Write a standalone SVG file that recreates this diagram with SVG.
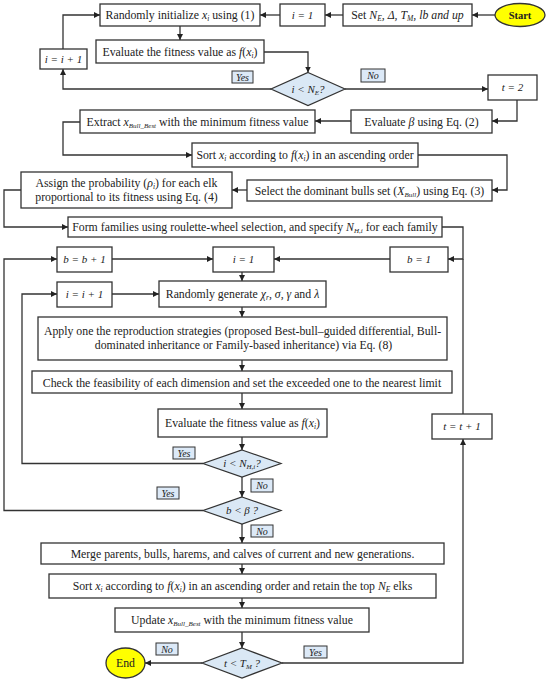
<svg xmlns="http://www.w3.org/2000/svg" width="550" height="685" viewBox="0 0 550 685">
<defs>
<marker id="ah" viewBox="0 0 10 10" refX="10" refY="5" markerWidth="6" markerHeight="6" orient="auto" markerUnits="userSpaceOnUse">
<path d="M0,0 L10,5 L0,10 z" fill="#222"/>
</marker>
<style>
.box{fill:#fff;stroke:#333;stroke-width:1.3}
.dia{fill:#dae8f5;stroke:#333;stroke-width:1.2}
.lbl{fill:#dce9f7;stroke:#333;stroke-width:1}
.term{fill:#ffff00;stroke:#333;stroke-width:1.3}
.ln{fill:none;stroke:#333;stroke-width:1.3}
.ar{marker-end:url(#ah)}
text{font-family:"Liberation Serif","DejaVu Serif",serif;font-size:11.8px;fill:#222;text-anchor:middle}
.it{font-style:italic}
.sm{font-style:italic;font-size:11px}
.lt{font-style:italic;font-size:10px}
.b{font-weight:bold;font-size:10.5px}
</style>
</defs>
<rect width="550" height="685" fill="#fff"/>

<g id="connectors">
<path class="ln ar" d="M495,15 H472"/>
<path class="ln ar" d="M343,15 H325"/>
<path class="ln ar" d="M280,15 H260"/>
<path class="ln ar" d="M180,26 V40"/>
<path class="ln ar" d="M264,52 H308 V72.5"/>
<path class="ln ar" d="M271,89 H63 V69"/>
<path class="ln ar" d="M63,49 V15 H100"/>
<path class="ln ar" d="M345,89 H488"/>
<path class="ln ar" d="M517,100 V121 H492"/>
<path class="ln ar" d="M351,121 H315"/>
<path class="ln ar" d="M80,122 H63 V155 H192"/>
<path class="ln ar" d="M418,155 H507 V190 H492"/>
<path class="ln ar" d="M247,190 H232"/>
<path class="ln ar" d="M21,190 H4 V227 H68"/>
<path class="ln ar" d="M442,227 H463 V259 H448"/>
<path class="ln ar" d="M390,259 H274"/>
<path class="ln ar" d="M112,259 H213"/>
<path class="ln ar" d="M242,272 V281"/>
<path class="ln ar" d="M112,294 H159"/>
<path class="ln ar" d="M242,307 V317"/>
<path class="ln ar" d="M242,360 V371"/>
<path class="ln ar" d="M242,393 V409"/>
<path class="ln ar" d="M242,437 V450"/>
<path class="ln ar" d="M203,463.5 H22 V294 H57"/>
<path class="ln ar" d="M242,477 V497"/>
<path class="ln ar" d="M203,510.5 H4 V259 H57"/>
<path class="ln ar" d="M242,524 V543"/>
<path class="ln ar" d="M242,564 V574"/>
<path class="ln ar" d="M242,598 V608"/>
<path class="ln ar" d="M242,632 V648"/>
<path class="ln ar" d="M202,663 H145"/>
<path class="ln ar" d="M282,663 H463 V439"/>
<path class="ln" d="M463,414 V259"/>
</g>

<g id="start"><ellipse class="term" cx="520" cy="15" rx="25" ry="11.5"/><text class="b" x="520" y="19">Start</text></g>
<g id="set"><rect class="box" x="343" y="4" width="129" height="22"/><text x="407.5" y="19">Set <tspan class="it">N<tspan font-size="7.5" dy="2">E</tspan><tspan dy="-2">, Δ, T</tspan><tspan font-size="7.5" dy="2">M</tspan><tspan dy="-2">, lb and up</tspan></tspan></text></g>
<g id="i1a"><rect class="box" x="280" y="4" width="45" height="22"/><text class="sm" x="302.5" y="19">i = 1</text></g>
<g id="init"><rect class="box" x="100" y="4" width="160" height="22"/><text x="180" y="19">Randomly initialize <tspan class="it">x<tspan font-size="7.5" dy="2">i</tspan></tspan><tspan dy="-2"> using (1)</tspan></text></g>
<g id="eval1"><rect class="box" x="96" y="40" width="168" height="23"/><text x="180" y="55.5">Evaluate the fitness value as <tspan class="it">f</tspan>(<tspan class="it">x<tspan font-size="7.5" dy="2">i</tspan></tspan><tspan dy="-2">)</tspan></text></g>
<g id="inc1"><rect class="box" x="40" y="49" width="47" height="20"/><text class="sm" x="63.5" y="63">i = i + 1</text></g>
<g id="d1"><polygon class="dia" points="308,72.5 345,89 308,105.5 271,89"/><text class="sm" x="308" y="93">i &lt; N<tspan font-size="7" dy="2">E</tspan><tspan dy="-2">?</tspan></text></g>
<g id="t2"><rect class="box" x="488" y="75" width="49" height="25"/><text class="sm" x="512.5" y="91">t = 2</text></g>
<g id="evb"><rect class="box" x="351" y="110" width="141" height="23"/><text x="421.5" y="125.5">Evaluate <tspan class="it">β</tspan> using Eq. (2)</text></g>
<g id="extract"><rect class="box" x="80" y="110" width="235" height="23"/><text x="197.5" y="125.5">Extract <tspan class="it">x<tspan font-size="7" dy="2">Bull_Best</tspan></tspan><tspan dy="-2"> with the minimum fitness value</tspan></text></g>
<g id="sort1"><rect class="box" x="192" y="143" width="226" height="24"/><text x="305" y="159">Sort <tspan class="it">x<tspan font-size="7.5" dy="2">i</tspan></tspan><tspan dy="-2"> according to </tspan><tspan class="it">f</tspan>(<tspan class="it">x<tspan font-size="7.5" dy="2">i</tspan></tspan><tspan dy="-2">) in an ascending order</tspan></text></g>
<g id="select"><rect class="box" x="247" y="180" width="245" height="21"/><text x="369.5" y="194.5">Select the dominant bulls set (<tspan class="it">X<tspan font-size="7" dy="2">Bull</tspan></tspan><tspan dy="-2">) using Eq. (3)</tspan></text></g>
<g id="assign"><rect class="box" x="21" y="172" width="211" height="36"/><text x="126.5" y="187">Assign the probability (<tspan class="it">ρ<tspan font-size="7.5" dy="2">i</tspan></tspan><tspan dy="-2">) for each elk</tspan></text><text x="126.5" y="200.5">proportional to its fitness using Eq. (4)</text></g>
<g id="form"><rect class="box" x="68" y="217" width="374" height="20"/><text x="255" y="231">Form families using roulette-wheel selection, and specify <tspan class="it">N<tspan font-size="7" dy="2">H,i</tspan></tspan><tspan dy="-2"> for each family</tspan></text></g>
<g id="binc"><rect class="box" x="57" y="247" width="55" height="25"/><text class="sm" x="84.5" y="263">b = b + 1</text></g>
<g id="i1b"><rect class="box" x="213" y="247" width="61" height="25"/><text class="sm" x="243.5" y="263">i = 1</text></g>
<g id="b1"><rect class="box" x="390" y="247" width="58" height="25"/><text class="sm" x="419" y="263">b = 1</text></g>
<g id="inc2"><rect class="box" x="57" y="282" width="55" height="25"/><text class="sm" x="84.5" y="298">i = i + 1</text></g>
<g id="randgen"><rect class="box" x="159" y="281" width="167" height="26"/><text x="242.5" y="298">Randomly generate <tspan class="it">χ<tspan font-size="7.5" dy="2">r</tspan></tspan><tspan dy="-2">, </tspan><tspan class="it">σ</tspan>, <tspan class="it">γ</tspan> and <tspan class="it">λ</tspan></text></g>
<g id="apply"><rect class="box" x="38" y="317" width="409" height="43"/><text x="242.5" y="335">Apply one the reproduction strategies (proposed Best-bull–guided differential, Bull-</text><text x="243.5" y="348.5">dominated inheritance or Family-based inheritance) via Eq. (8)</text></g>
<g id="check"><rect class="box" x="32" y="371" width="420" height="22"/><text x="242" y="386.5">Check the feasibility of each dimension and set the exceeded one to the nearest limit</text></g>
<g id="eval2"><rect class="box" x="158" y="409" width="169" height="28"/><text x="242.5" y="427">Evaluate the fitness value as <tspan class="it">f</tspan>(<tspan class="it">x<tspan font-size="7.5" dy="2">i</tspan></tspan><tspan dy="-2">)</tspan></text></g>
<g id="d2"><polygon class="dia" points="242,450 281,463.5 242,477 203,463.5"/><text class="sm" x="242" y="467">i &lt; N<tspan font-size="7" dy="2">H,i</tspan><tspan dy="-2">?</tspan></text></g>
<g id="d3"><polygon class="dia" points="242,497 281,510.5 242,524 203,510.5"/><text class="sm" x="242" y="514">b &lt; β ?</text></g>
<g id="tinc"><rect class="box" x="432" y="414" width="60" height="25"/><text class="sm" x="462" y="430">t = t + 1</text></g>
<g id="merge"><rect class="box" x="41" y="543" width="403" height="21"/><text x="242.5" y="557.5">Merge parents, bulls, harems, and calves of current and new generations.</text></g>
<g id="sort2"><rect class="box" x="49" y="574" width="387" height="24"/><text x="242.5" y="590">Sort <tspan class="it">x<tspan font-size="7.5" dy="2">i</tspan></tspan><tspan dy="-2"> according to </tspan><tspan class="it">f</tspan>(<tspan class="it">x<tspan font-size="7.5" dy="2">i</tspan></tspan><tspan dy="-2">) in an ascending order and retain the top </tspan><tspan class="it">N<tspan font-size="7.5" dy="2">E</tspan></tspan><tspan dy="-2"> elks</tspan></text></g>
<g id="update"><rect class="box" x="115" y="608" width="254" height="24"/><text x="242" y="624">Update <tspan class="it">x<tspan font-size="7" dy="2">Bull_Best</tspan></tspan><tspan dy="-2"> with the minimum fitness value</tspan></text></g>
<g id="d4"><polygon class="dia" points="242,648 282,663 242,678 202,663"/><text class="sm" x="242" y="667">t &lt; T<tspan font-size="7" dy="2">M</tspan><tspan dy="-2"> ?</tspan></text></g>
<g id="end"><ellipse class="term" cx="125.5" cy="663" rx="19.5" ry="15"/><text x="125.5" y="667">End</text></g>

<g id="labels">
<rect class="lbl" x="232" y="71" width="21" height="12"/><text class="lt" x="242.5" y="80.5">Yes</text>
<rect class="lbl" x="361" y="69" width="24" height="13"/><text class="lt" x="373" y="79">No</text>
<rect class="lbl" x="173" y="447" width="22" height="12"/><text class="lt" x="184" y="456.5">Yes</text>
<rect class="lbl" x="251" y="479" width="22" height="13"/><text class="lt" x="262" y="489">No</text>
<rect class="lbl" x="157" y="487" width="22" height="12"/><text class="lt" x="168" y="496.5">Yes</text>
<rect class="lbl" x="251" y="525" width="22" height="12"/><text class="lt" x="262" y="534.5">No</text>
<rect class="lbl" x="156" y="643" width="22" height="12"/><text class="lt" x="167" y="652.5">No</text>
<rect class="lbl" x="304" y="646" width="23" height="12"/><text class="lt" x="315.5" y="655.5">Yes</text>
</g>
</svg>
